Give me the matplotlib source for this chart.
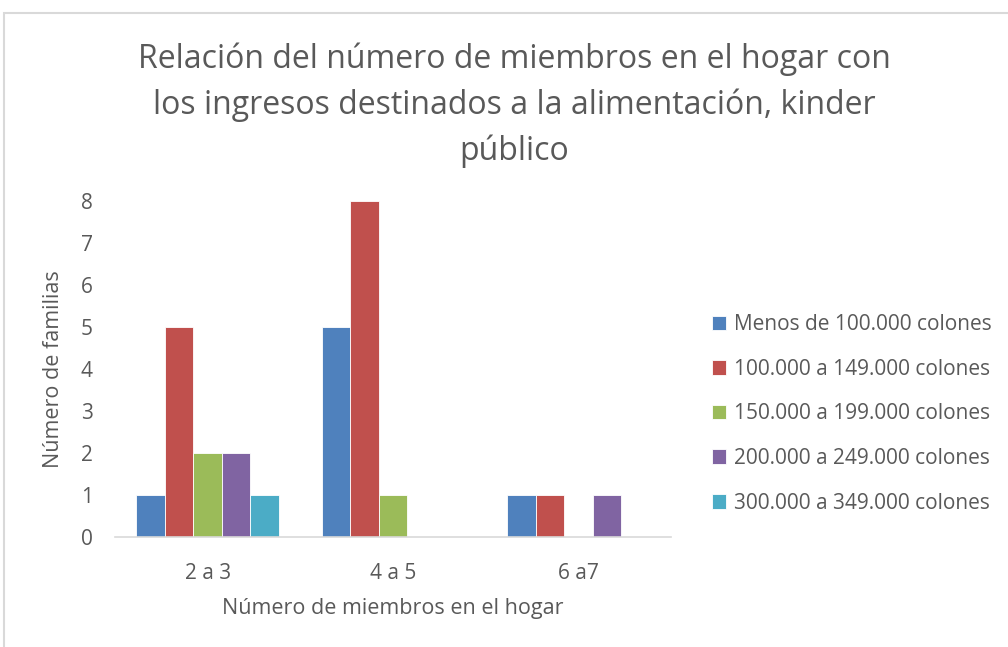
import numpy as np
import matplotlib
matplotlib.use("Agg")
import matplotlib.pyplot as plt
from matplotlib.patches import Rectangle

plt.rcParams['font.family'] = ['Open Sans', 'DejaVu Sans']

# datos
categorias = ['2 a 3', '4 a 5', '6 a7']
series = ['Menos de 100.000 colones', '100.000 a 149.000 colones',
          '150.000 a 199.000 colones', '200.000 a 249.000 colones',
          '300.000 a 349.000 colones']
menos_100 = [1, 5, 1]
de_100_149 = [5, 8, 1]
de_150_199 = [2, 1, 0]
de_200_249 = [2, 0, 1]
de_300_349 = [1, 0, 0]
valores = [menos_100, de_100_149, de_150_199, de_200_249, de_300_349]
colores = ['#4F81BD', '#C0504D', '#9BBB59', '#8064A2', '#4BACC6']

gris = '#595959'
fig = plt.figure(figsize=(10.08, 6.47), dpi=100)
ax = fig.add_axes([115/1008, 1-537/647, (671-115)/1008, (537-201)/647])

# borde del grafico (solo arriba e izquierda visibles)
fig.patches.append(Rectangle((4/1008, -0.1), 1.2, 1-13/647+0.1, transform=fig.transFigure,
                             fill=False, edgecolor='#d9d9d9', linewidth=1.5))

x = np.arange(len(categorias))
w = 1/6.5
for i, (v, c) in enumerate(zip(valores, colores)):
    ax.bar(x + (i-2)*w, v, width=w, color=c, edgecolor='white', linewidth=0.6, label=series[i])

ax.set_xlim(-0.5, 2.5)
ax.set_ylim(0, 8)
ax.set_yticks(range(0, 9))
ax.set_xticks(x)
ax.set_xticklabels(categorias)
for s in ['top', 'right', 'left']:
    ax.spines[s].set_visible(False)
ax.spines['bottom'].set_color('#d9d9d9')
ax.spines['bottom'].set_linewidth(1.2)
ax.tick_params(axis='both', length=0, labelsize=15, colors=gris)
ax.tick_params(axis='y', pad=16)
ax.tick_params(axis='x', pad=19)

ax.set_ylabel('Número de familias', fontsize=15.5, color=gris, labelpad=12)
ax.set_xlabel('Número de miembros en el hogar', fontsize=15.5, color=gris, labelpad=10)

fig.text(514/1008, 1-105/647,
         'Relación del número de miembros en el hogar con\n'
         'los ingresos destinados a la alimentación, kinder\npúblico',
         ha='center', va='center', fontsize=23, color=gris, linespacing=1.5)

ax.legend(loc='center left', bbox_to_anchor=(693/1008, 1-414/647), bbox_transform=fig.transFigure,
          frameon=False, fontsize=15, labelcolor=gris, handlelength=0.7, handleheight=0.7,
          handletextpad=0.35, labelspacing=1.13)

fig.savefig('out.png', dpi=100)
